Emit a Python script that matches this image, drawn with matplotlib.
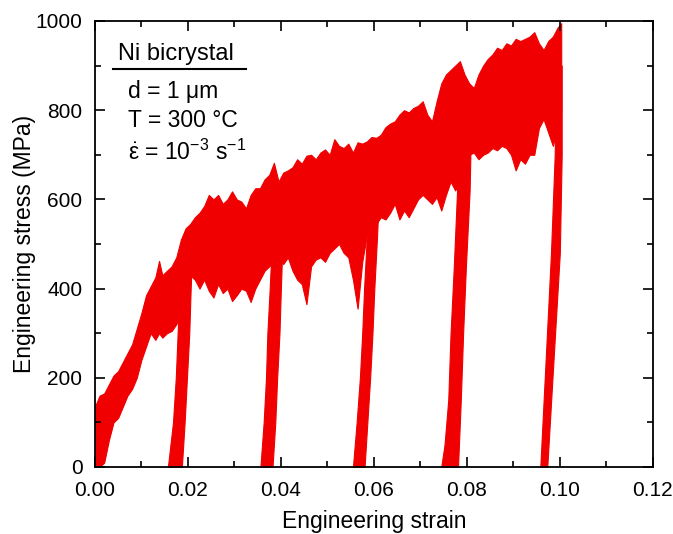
import matplotlib
matplotlib.use("Agg")
import matplotlib.pyplot as plt
from matplotlib.ticker import MultipleLocator

plt.rcParams['font.family'] = ['Liberation Sans', 'DejaVu Sans']
plt.rcParams['mathtext.fontset'] = 'custom'
plt.rcParams['mathtext.rm'] = 'Liberation Sans'
plt.rcParams['mathtext.it'] = 'Liberation Sans'
plt.rcParams['mathtext.bf'] = 'Liberation Sans:bold'

# ---- data ----
load_strain = [0.0000, 0.0010, 0.0020, 0.0030, 0.0040, 0.0050, 0.0060, 0.0070, 0.0080, 0.0090,
               0.0100, 0.0110, 0.0120, 0.0130, 0.0138, 0.0145, 0.0155, 0.0165, 0.0175, 0.0185,
               0.0195, 0.0205, 0.0215, 0.0225, 0.0235, 0.0245, 0.0255, 0.0265, 0.0275, 0.0285,
               0.0295, 0.0305, 0.0315, 0.0325, 0.0335, 0.0345, 0.0355, 0.0365, 0.0375, 0.0385,
               0.0395, 0.0405, 0.0415, 0.0425, 0.0435, 0.0445, 0.0455, 0.0465, 0.0475, 0.0485,
               0.0495, 0.0505, 0.0515, 0.0525, 0.0535, 0.0545, 0.0555, 0.0565, 0.0575, 0.0585,
               0.0595, 0.0605, 0.0615, 0.0625, 0.0635, 0.0645, 0.0655, 0.0665, 0.0675, 0.0685,
               0.0695, 0.0705, 0.0715, 0.0725, 0.0735, 0.0745, 0.0755, 0.0765, 0.0775, 0.0785,
               0.0795, 0.0805, 0.0815, 0.0825, 0.0835, 0.0845, 0.0855, 0.0865, 0.0875, 0.0885,
               0.0895, 0.0905, 0.0915, 0.0925, 0.0935, 0.0945, 0.0955, 0.0965, 0.0975, 0.0985,
               0.0995, 0.1003]
load_upper = [135, 160, 165, 185, 205, 215, 235, 255, 275, 310,
              345, 385, 405, 425, 462, 430, 440, 450, 470, 510,
              535, 545, 560, 570, 585, 610, 600, 610, 590, 600,
              618, 600, 595, 580, 610, 625, 625, 645, 655, 682,
              640, 660, 665, 672, 690, 680, 698, 700, 690, 705,
              712, 700, 735, 720, 715, 725, 705, 728, 725, 730,
              740, 738, 745, 762, 770, 775, 790, 800, 795, 805,
              810, 820, 790, 775, 820, 860, 880, 890, 900, 910,
              880, 860, 850, 880, 900, 915, 925, 940, 935, 950,
              945, 960, 955, 960, 965, 975, 950, 935, 955, 965,
              985, 995]
load_lower = [0, 0, 10, 60, 100, 110, 135, 160, 175, 200,
              240, 270, 300, 285, 300, 290, 300, 305, 320, 345,
              400, 430, 420, 400, 420, 395, 380, 410, 390, 400,
              372, 385, 400, 395, 370, 400, 420, 440, 450, 460,
              470, 455, 470, 440, 420, 410, 365, 450, 465, 470,
              460, 480, 490, 500, 480, 470, 420, 355, 460, 520,
              540, 545, 560, 555, 570, 590, 555, 575, 560, 580,
              600, 610, 600, 590, 605, 575, 610, 640, 620, 640,
              680, 700, 705, 690, 700, 705, 715, 710, 720, 715,
              700, 665, 690, 680, 700, 700, 760, 780, 750, 720,
              760, 800]

# unloading/reloading branches: stress levels with left / right strain edges
unload1_stress = [0, 100, 200, 300, 400, 450]
unload1_left = [0.0157, 0.0168, 0.0174, 0.0178, 0.0182, 0.0184]
unload1_right = [0.0187, 0.0193, 0.0198, 0.0203, 0.0206, 0.0208]

unload2_stress = [0, 100, 200, 300, 400, 490]
unload2_left = [0.0356, 0.0363, 0.0368, 0.0371, 0.0376, 0.0380]
unload2_right = [0.0382, 0.0388, 0.0392, 0.0397, 0.0400, 0.0403]

unload3_stress = [0, 100, 200, 300, 400, 520, 570]
unload3_left = [0.0555, 0.0563, 0.0570, 0.0575, 0.0579, 0.0585, 0.0587]
unload3_right = [0.0580, 0.0586, 0.0592, 0.0597, 0.0601, 0.0607, 0.0609]

unload4_stress = [0, 50, 150, 300, 450, 620, 720]
unload4_left = [0.0745, 0.0752, 0.0760, 0.0765, 0.0772, 0.0779, 0.0782]
unload4_right = [0.0781, 0.0783, 0.0787, 0.0792, 0.0798, 0.0806, 0.0808]

unload5_stress = [0, 250, 480, 700, 900]
unload5_left = [0.0958, 0.0970, 0.0981, 0.0989, 0.0992]
unload5_right = [0.0973, 0.0987, 0.1000, 0.1004, 0.1004]

x_ticks = [0.00, 0.02, 0.04, 0.06, 0.08, 0.10, 0.12]
y_ticks = [0, 200, 400, 600, 800, 1000]

RED = '#f00000'

fig = plt.figure(figsize=(6.73, 5.34), dpi=100)
ax = fig.add_axes([0.141, 0.1255, 0.829, 0.8352])

ax.fill_between(load_strain, load_lower, load_upper, color=RED, lw=0.8, edgecolor=RED)
branches = [(unload1_stress, unload1_left, unload1_right),
            (unload2_stress, unload2_left, unload2_right),
            (unload3_stress, unload3_left, unload3_right),
            (unload4_stress, unload4_left, unload4_right),
            (unload5_stress, unload5_left, unload5_right)]
for s, l, r in branches:
    ax.fill_betweenx(s, l, r, color=RED, lw=0.8, edgecolor=RED)

ax.set_xlim(0, 0.12)
ax.set_ylim(0, 1000)
ax.set_xticks(x_ticks)
ax.set_xticklabels([f"{v:.2f}" for v in x_ticks])
ax.set_yticks(y_ticks)
ax.xaxis.set_minor_locator(MultipleLocator(0.01))
ax.yaxis.set_minor_locator(MultipleLocator(100))
ax.tick_params(which='both', direction='in', top=True, right=True, width=1.2, labelsize=15)
ax.tick_params(which='major', length=7)
ax.tick_params(which='minor', length=4)
ax.tick_params(axis='x', which='major', pad=10)
ax.tick_params(axis='y', which='major', pad=9)
for sp in ax.spines.values():
    sp.set_linewidth(1.3)

ax.set_xlabel('Engineering strain', fontsize=16.5, labelpad=7)
ax.set_ylabel('Engineering stress (MPa)', fontsize=16.5, labelpad=0)

ax.text(0.0049, 926, 'Ni bicrystal', fontsize=17, ha='left', va='center')
ax.plot([0.0039, 0.0325], [893, 893], color='black', lw=1.5)
ax.text(0.0071, 843, 'd = 1 μm', fontsize=16.5, ha='left', va='center')
ax.text(0.0071, 776, 'T = 300 °C', fontsize=16.5, ha='left', va='center')
ax.text(0.0071, 706, r'$\dot{\varepsilon}$ = 10$^{-3}$ s$^{-1}$', fontsize=16.5,
        ha='left', va='center')

fig.savefig('out.png', dpi=100)
